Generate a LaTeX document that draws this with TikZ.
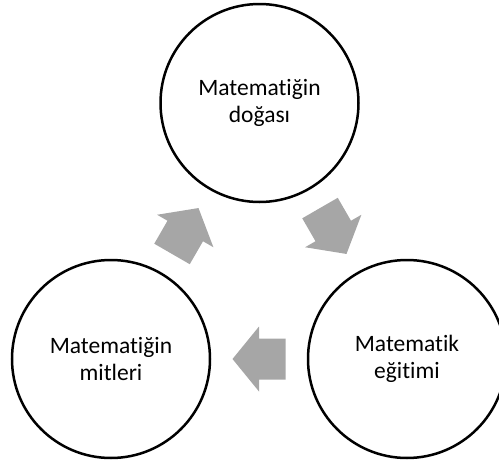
\documentclass[tikz,border=0pt]{standalone}
\usepackage{fontspec}
\setmainfont{Carlito}[RawFeature={-liga;-clig;-dlig;-calt}]
\usetikzlibrary{calc}

\tikzset{
  stage/.style={draw, circle, line width=2.5pt, minimum size=198pt, inner sep=0pt,
    align=center, font=\fontsize{23.5}{27}\selectfont},
  cyclearrow/.pic={
    \fill[black!35] (-26.5,-20.5) -- (0,-20.5) -- (0,-32.5) -- (26.5,0)
      -- (0,32.5) -- (0,20.5) -- (-26.5,20.5) -- cycle;
  }
}

\begin{document}
\begin{tikzpicture}[x=1pt, y=-1pt]
  \clip (0,0) rectangle (499,464);
  % the three stages of the cycle
  \node[stage] (nature)    at (259.5,103) {Matematiğin\\doğası};
  \node[stage] (education) at (407,359)   {Matematik\\eğitimi};
  \node[stage] (myths)     at (111,359)   {Matematiğin\\mitleri};
  % block arrows between them
  \pic[rotate=60]  at ($(myths)!0.5!(nature)$)     {cyclearrow};
  \pic[rotate=-60] at ($(nature)!0.5!(education)$) {cyclearrow};
  \pic[rotate=180] at ($(education)!0.5!(myths)$)  {cyclearrow};
\end{tikzpicture}
\end{document}
